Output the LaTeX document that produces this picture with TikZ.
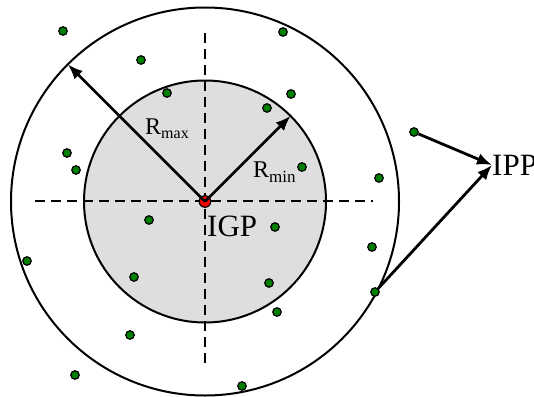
\documentclass[tikz,border=0pt]{standalone}
\usepackage{fontspec}
\setmainfont{Liberation Serif}
\usetikzlibrary{arrows.meta}
\begin{document}
\begin{tikzpicture}[x=1pt,y=-1pt,
  ring/.style={draw=black,line width=2pt},
  axis/.style={draw=black,line width=2.6pt,dash pattern=on 10pt off 6pt},
  arr/.style={draw=black,line width=2.8pt,-{Latex[length=15pt,width=12pt]}},
  gdot/.style={circle,draw=black,line width=1.2pt,fill=green!50!black,inner sep=0pt,minimum size=8.5pt},
  rdot/.style={circle,draw=black,line width=1.2pt,fill=red,inner sep=0pt,minimum size=11.5pt},
  lbl/.style={inner sep=0pt,font=\fontsize{24}{24}\selectfont}]
\useasboundingbox (0,0) rectangle (534,396);
% circles
\draw[ring] (205,201.5) circle[radius=194];
\draw[ring,fill=black!13] (205,201.5) circle[radius=121];
% axes
\coordinate (vt) at (205,33);
\coordinate (vb) at (205,369);
\coordinate (hl) at (35,201);
\coordinate (hr) at (373,201);
\draw[axis] (vt) -- (vb);
\draw[axis] (hl) -- (hr);
% center
\node[rdot] (igp) at (205,201.5) {};
\coordinate (rmaxend) at (68,64.5);
\coordinate (rminend) at (290.5,116);
\draw[arr] (igp.center) -- (rmaxend);
\draw[arr] (igp.center) -- (rminend);
% labels
\node[lbl,anchor=base west] (rmax) at (145,134) {R\raisebox{-4pt}{\fontsize{16}{16}\selectfont max}};
\node[lbl,anchor=base west] (rmin) at (253,177) {R\raisebox{-5pt}{\fontsize{17}{17}\selectfont min}};
\node[inner sep=0pt,anchor=base west,font=\fontsize{31}{31}\selectfont] (igplbl) at (207,236) {IGP};
\node[inner sep=0pt,anchor=west,font=\fontsize{31}{31}\selectfont] (ipp) at (492,165) {IPP};
% dots
\foreach \n/\x/\y in {a/63/31, b/141/60, c/283/32, d/167/93, e/291/94, f/267/108,
  h/67/153, i/76/170, j/302/167, k/379/178, l/149/220, m/275/227,
  n/27/261, o/372/247, p/134/277, q/269/283, s/277/312, t/130/335,
  u/75/375, v/242/386}
  \node[gdot] (\n) at (\x,\y) {};
\node[gdot] (g) at (414,132) {};
\node[gdot] (r) at (375,292) {};
\draw[arr] (g) -- (ipp.west);
\draw[arr] (r) -- (ipp.west);
\end{tikzpicture}
\end{document}
